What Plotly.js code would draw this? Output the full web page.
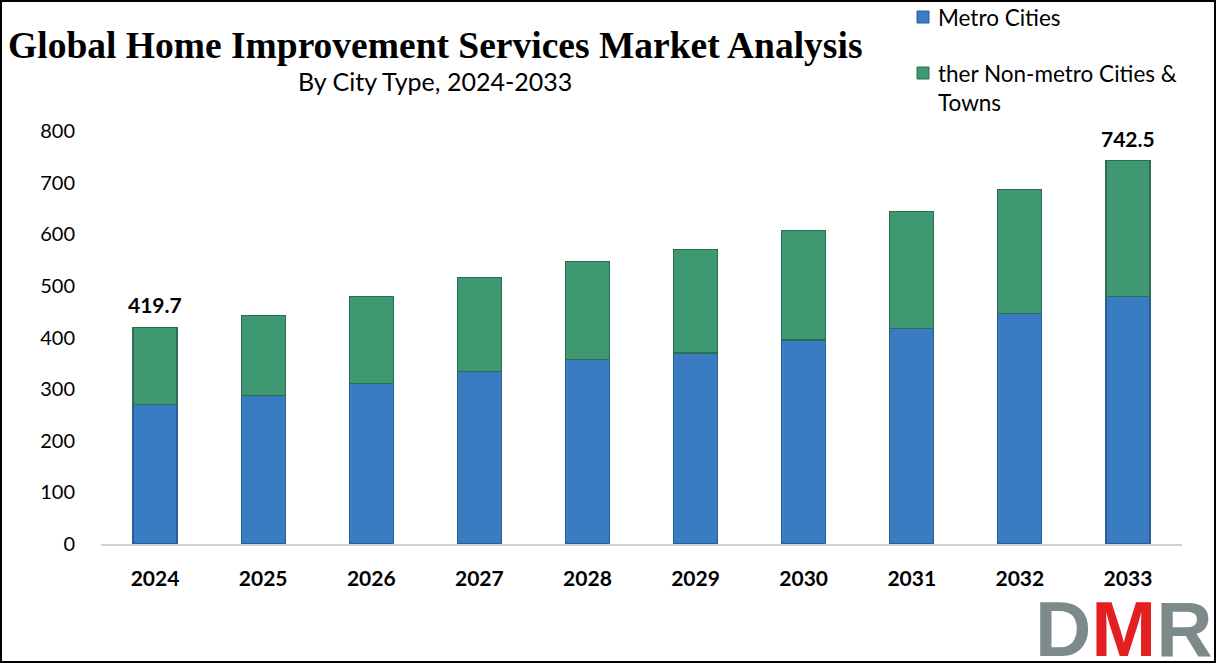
<!DOCTYPE html>
<html>
<head>
<meta charset="utf-8">
<script src="https://cdn.plot.ly/plotly-3.0.1.min.js"></script>
<style>
html,body{margin:0;padding:0;background:#fff;}
#chart{width:1216px;height:663px;box-sizing:border-box;border:2px solid #000;position:relative;}
</style>
</head>
<body>
<div id="chart"></div>
<script>
const years = ['2024','2025','2026','2027','2028','2029','2030','2031','2032','2033'];
const metroCities = [271, 288, 311, 334, 357, 370, 395, 418, 447, 480];
const nonMetroCities = [148.7, 154, 168, 182, 190, 200, 212, 226, 240, 262.5];
const labelYears = ['2024','2033'];
const labelValues = ['419.7','742.5'];
const seriesNames = ['Metro Cities', 'ther Non-metro Cities &<br>Towns'];
const seriesColors = ['#3a7cc2', '#3e9872'];
const seriesLines = ['#2a5e96', '#2c6e52'];

const M = {l:99, r:32, t:129, b:117};
const W = 1212, H = 659;
const PW = W - M.l - M.r, PH = H - M.t - M.b;
// page pixel -> paper fraction (chart sits inside a 2px border)
const px = x => (x - 2 - M.l) / PW;
const py = y => 1 - (y - 2 - M.t) / PH;

const traces = [0,1].map(i => ({
  type:'bar', name:seriesNames[i], x:years, y:i===0?metroCities:nonMetroCities,
  marker:{color:seriesColors[i], line:{color:seriesLines[i], width:1.2}}, showlegend:false
}));

const annotations = labelYears.map((yr,i)=>{
  const idx = years.indexOf(yr);
  return {x:idx, y:metroCities[idx]+nonMetroCities[idx], xref:'x', yref:'y', text:'<b>'+labelValues[i]+'</b>',
    showarrow:false, yanchor:'bottom', yshift:8, font:{family:'Lato', size:21, color:'#000'}};
});
annotations.push({xref:'paper', yref:'paper', x:px(435), y:py(81), xanchor:'center', yanchor:'middle',
  text:'By City Type, 2024-2033', showarrow:false, font:{family:'Lato', size:25, color:'#000'}});
// legend texts
annotations.push({xref:'paper', yref:'paper', x:px(936), y:py(17), xanchor:'left', yanchor:'middle', align:'left',
  text:seriesNames[0], showarrow:false, font:{family:'Lato', size:22.5, color:'#000'}});
annotations.push({xref:'paper', yref:'paper', x:px(936), y:py(88), xanchor:'left', yanchor:'middle', align:'left',
  text:seriesNames[1], showarrow:false, font:{family:'Lato', size:22.5, color:'#000'}});
// logo
annotations.push({xref:'paper', yref:'paper', x:px(1215), y:py(583), xanchor:'right', yanchor:'top',
  text:"<b><span style='color:#7d8a8b'>D</span><span style='color:#e3201f'>M</span><span style='color:#7d8a8b'>R</span></b>",
  showarrow:false, font:{family:'Liberation Sans', size:78, color:'#7d8a8b'}});

const swatch = (cy, i) => ({type:'rect', xref:'paper', yref:'paper',
  x0:px(917), x1:px(929), y0:py(cy+6), y1:py(cy-6),
  fillcolor:seriesColors[i], line:{color:seriesLines[i], width:1}});

const layout = {
  width:W, height:H,
  margin:M,
  paper_bgcolor:'#fff', plot_bgcolor:'#fff',
  barmode:'stack', bargap:0.593,
  showlegend:false,
  title:{text:'<b>Global Home Improvement Services Market Analysis</b>', xref:'container', yref:'container',
    x:0.005, xanchor:'left', y:0.935, yanchor:'middle', font:{family:'Liberation Serif', size:37.5, color:'#000'}},
  xaxis:{type:'category', range:[-0.5, 9.5], showline:true, linecolor:'#d0d0d0', linewidth:1.5, showgrid:false,
    ticks:'outside', ticklen:15, tickcolor:'rgba(0,0,0,0)',
    tickfont:{family:'Lato', size:21, color:'#000', weight:'bold'}},
  yaxis:{range:[0,800], dtick:100, showgrid:false, zeroline:false, showline:false,
    ticks:'outside', ticklen:21, tickcolor:'rgba(0,0,0,0)',
    tickfont:{family:'Lato', size:20, color:'#000'}},
  shapes:[swatch(17,0), swatch(73,1)],
  annotations:annotations
};
Plotly.newPlot('chart', traces, layout, {displayModeBar:false, responsive:false});
</script>
</body>
</html>
